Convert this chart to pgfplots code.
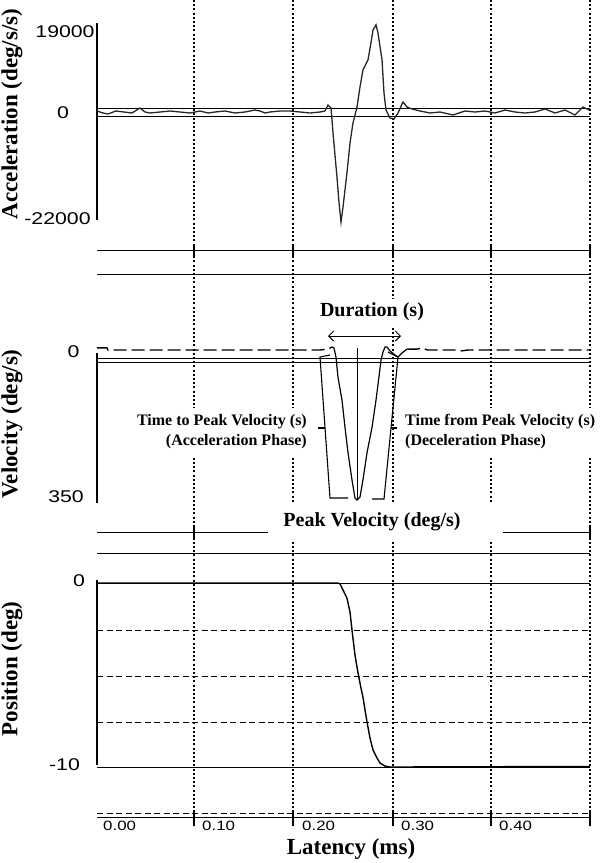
\documentclass[border=0pt]{standalone}
\usepackage{pgfplots}
\pgfplotsset{compat=1.18}
\usetikzlibrary{arrows.meta}
\usepackage{fontspec}
\setmainfont{Liberation Serif}
\newfontfamily\tickfont[FakeStretch=1.25]{Liberation Sans}

\pgfplotsset{
  panel/.style={scale only axis, width=494pt, xmin=0, xmax=0.5, hide axis, clip=false},
  trace/.style={black, line width=1.3pt, no marks},
}
\begin{document}
\begin{tikzpicture}
\useasboundingbox (0pt,0pt) rectangle (600pt,-863pt);
% ---------- overlay: frame, grid, annotations (pixel coordinates) ----------
\begin{axis}[at={(0pt,0pt)}, anchor=north west, scale only axis, width=600pt, height=863pt,
  xmin=0, xmax=600, ymin=0, ymax=863, y dir=reverse, hide axis, clip=false]
  % dotted vertical grid
  \pgfplotsinvokeforeach{194,293,393,491,590}{
    \draw[black, line width=1.3pt, dash pattern=on 2pt off 2.2pt] (#1,0) -- (#1,813);
  }
  % ---- acceleration panel
  \draw[line width=1.3pt] (97,23) -- (97,220);
  \draw[line width=0.8pt] (97,108) -- (590,108);
  \draw[line width=0.8pt] (97,116) -- (590,116);
  \draw[line width=1pt] (97,250) -- (590,250);
  \pgfplotsinvokeforeach{194,293,393,491,590}{\draw[line width=1.3pt] (#1,246) -- (#1,258);}
  % ---- velocity panel
  \draw[line width=1pt] (97,274) -- (590,274);
  \draw[line width=1.3pt] (97,353) -- (97,503);
  \draw[line width=0.8pt] (97,358) -- (590,358);
  \draw[line width=0.8pt] (97,362) -- (590,362);
  \draw[line width=1pt] (97,532) -- (590,532);
  \pgfplotsinvokeforeach{194,293,393,491,590}{\draw[line width=1.3pt] (#1,527) -- (#1,538);}
  % ---- position panel
  \draw[line width=1pt] (97,553) -- (590,553);
  \draw[line width=1.3pt] (97,580) -- (97,765);
  \draw[line width=1pt] (97,583) -- (590,583);
  \draw[line width=1pt] (97,767) -- (590,767);
  \pgfplotsinvokeforeach{630,676,722,813}{
    \draw[line width=1pt, dash pattern=on 6pt off 3.5pt] (97,#1) -- (590,#1);
  }
  \draw[line width=1pt] (97,817) -- (590,817);
  \pgfplotsinvokeforeach{194,293,393,491,590}{\draw[line width=1.3pt] (#1,810) -- (#1,826);}
  % ---- axis titles
  \node[font=\bfseries\fontsize{23}{27}\selectfont, rotate=90] at (12,114) {Acceleration (deg/s/s)};
  \node[font=\bfseries\fontsize{23}{27}\selectfont, rotate=90] at (12,424) {Velocity (deg/s)};
  \node[font=\bfseries\fontsize{23}{27}\selectfont, rotate=90] at (12,669) {Position (deg)};
  \node[font=\bfseries\fontsize{23}{27}\selectfont] at (351,849) {Latency (ms)};
  % ---- y tick labels
  \begin{scope}[every node/.style={font=\tickfont\fontsize{17}{19}\selectfont, inner sep=0pt}]
    \node at (65,32) {19000};
    \node at (63,113) {0};
    \node at (57.5,219) {-22000};
    \node at (73.5,352) {0};
    \node at (66,497) {350};
    \node at (79,581) {0};
    \node at (64.5,765) {-10};
  \end{scope}
  % ---- x tick labels
  \begin{scope}[every node/.style={font=\tickfont\fontsize{13.5}{15}\selectfont, inner sep=0pt, anchor=west}]
    \node at (103,826) {0.00};
    \node at (202,826) {0.10};
    \node at (302,826) {0.20};
    \node at (401,826) {0.30};
    \node at (499,826) {0.40};
  \end{scope}
  % ---- annotations in the velocity panel
  \node[fill=white, inner sep=4pt, font=\bfseries\fontsize{20}{24}\selectfont] at (372,312) {Duration (s)};
  \draw[line width=1pt, {Straight Barb[length=5pt,width=10pt]}-{Straight Barb[length=5pt,width=10pt]}] (328,336) -- (401,336);
  \node[fill=white, inner xsep=2pt, inner ysep=7pt, anchor=east, align=right,
        font=\bfseries\fontsize{16}{20}\selectfont] at (309,432)
        {Time to Peak Velocity (s)\\(Acceleration Phase)};
  \node[fill=white, inner xsep=2pt, inner ysep=7pt, anchor=west, align=left,
        font=\bfseries\fontsize{16}{20}\selectfont] at (403,432)
        {Time from Peak Velocity (s)\\(Deceleration Phase)};
  \fill[white] (268,504) rectangle (503,541);
  \node[font=\bfseries\fontsize{20}{24}\selectfont] at (372,522) {Peak Velocity (deg/s)};
  % braces and peak marker
  \draw[line width=1.1pt] (330,355) -- (320,357) -- (330,498) -- (348,498);
  \draw[line width=1.1pt] (318,428) -- (325,428);
  \draw[line width=1.1pt] (388,352) -- (398,357) -- (384,499) -- (372,499);
  \draw[line width=1.1pt] (391,428) -- (397,428);
  \draw[line width=0.8pt] (357,348) -- (357,500);
\end{axis}

% ---------- acceleration data ----------
\begin{axis}[panel, at={(96pt,0pt)}, anchor=north west, height=250pt, ymin=-30330, ymax=24615]
  \addplot[trace, line width=1.3pt, black!85] coordinates {
    (0.001,220) (0.0071,-220) (0.0121,-440) (0.0202,220) (0.0283,0) (0.0364,-220)
    (0.0445,880) (0.0496,0) (0.0547,-220) (0.0648,0) (0.0749,220) (0.0850,0)
    (0.0951,-220) (0.1053,220) (0.1134,-220) (0.1204,0) (0.1306,220) (0.1407,-220)
    (0.1508,0) (0.1609,440) (0.1660,220) (0.1711,-220) (0.1761,0) (0.1862,220)
    (0.1964,220) (0.2065,0) (0.2166,-220) (0.2267,0) (0.2318,220) (0.2348,1540)
    (0.2379,880) (0.2399,-4620) (0.2439,-14300) (0.2460,-20000) (0.2480,-24200)
    (0.2500,-20900) (0.2540,-13420) (0.2571,-6820) (0.2601,-2420) (0.2642,1100)
    (0.2672,5500) (0.2702,9240) (0.2753,11440) (0.2783,15180) (0.2804,18040)
    (0.2834,19140) (0.2854,17380) (0.2895,11440) (0.2915,4180) (0.2935,440)
    (0.2976,-1320) (0.3016,-1540) (0.3057,-220) (0.3107,2200) (0.3148,1100)
    (0.3198,660) (0.3279,220) (0.3381,-220) (0.3482,0) (0.3613,-660) (0.3735,220)
    (0.3836,0) (0.3937,220) (0.4038,-220) (0.4140,440) (0.4241,0) (0.4342,-220)
    (0.4443,0) (0.4545,660) (0.4646,-220) (0.4747,440) (0.4848,-660) (0.4929,1100)
    (0.4990,440)
  };
\end{axis}

% ---------- velocity data ----------
\begin{axis}[panel, at={(96pt,-250pt)}, anchor=north west, height=282pt, y dir=reverse,
  ymin=-233.3, ymax=424.6]
  \addplot[trace, line width=1.4pt, dash pattern=on 13pt off 5pt] coordinates {
    (0.001,-5) (0.011,-5) (0.012,0) (0.2267,0) (0.2348,-2) (0.2389,-7)
  };
  \addplot[trace, line width=1.2pt] coordinates {
    (0.2389,-7) (0.2409,-4.7) (0.2429,16.3) (0.2449,63) (0.2490,117) (0.2520,180)
    (0.2551,240) (0.2591,303) (0.2621,345) (0.2642,350) (0.2672,343) (0.2702,303)
    (0.2743,240) (0.2794,180) (0.2834,117) (0.2864,63) (0.2885,23) (0.2905,4.7)
    (0.2925,-7) (0.2945,-7) (0.2976,2.3) (0.3026,11.7) (0.3057,16.3) (0.3097,7)
    (0.3148,-2.3)
  };
  \addplot[trace, line width=1.4pt, dash pattern=on 13pt off 5pt] coordinates {
    (0.3148,-2.3) (0.3239,-2) (0.330,-4) (0.336,0) (0.366,0) (0.3704,2) (0.376,0) (0.5,0)
  };
\end{axis}

% ---------- position data ----------
\begin{axis}[panel, at={(96pt,-532pt)}, anchor=north west, height=293pt,
  ymin=-13.152, ymax=2.772]
  \addplot[trace, line width=1.4pt] coordinates {
    (0.001,0) (0.2449,0) (0.2470,-0.05) (0.2500,-0.38) (0.2540,-0.82) (0.2571,-1.58)
    (0.2591,-2.55) (0.2621,-3.91) (0.2652,-4.89) (0.2682,-5.71) (0.2702,-6.2)
    (0.2723,-6.9) (0.2743,-7.55) (0.2773,-8.42) (0.2804,-9.08) (0.2844,-9.51)
    (0.2874,-9.78) (0.2925,-9.95) (0.2976,-10) (0.5,-9.97)
  };
\end{axis}
\end{tikzpicture}
\end{document}
